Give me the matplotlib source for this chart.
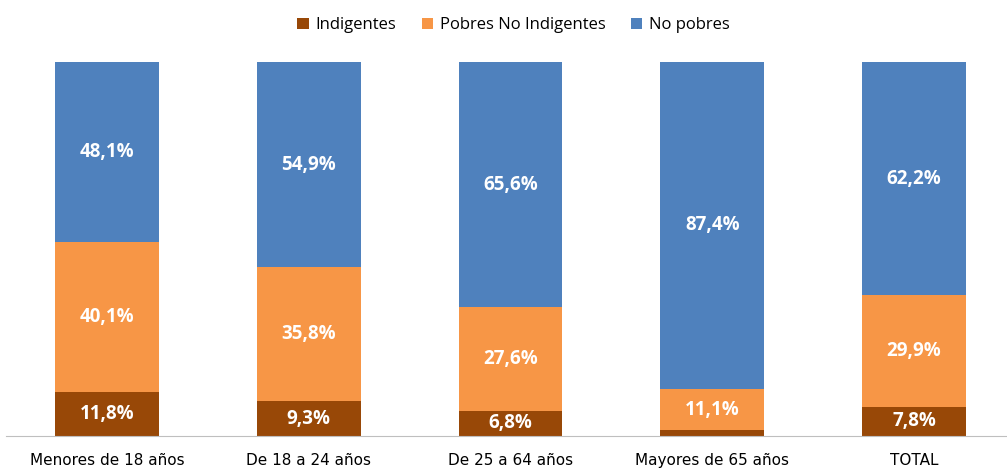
import matplotlib.pyplot as plt
import numpy as np

categorias = ["Menores de 18 años", "De 18 a 24 años", "De 25 a 64 años",
              "Mayores de 65 años", "TOTAL"]
indigentes = [11.8, 9.3, 6.8, 1.5, 7.8]
pobres_no_indigentes = [40.1, 35.8, 27.6, 11.1, 29.9]
no_pobres = [48.1, 54.9, 65.6, 87.4, 62.2]

series = [
    ("Indigentes", indigentes, "#984807"),
    ("Pobres No Indigentes", pobres_no_indigentes, "#F79646"),
    ("No pobres", no_pobres, "#4F81BD"),
]

plt.rcParams['font.family'] = ['Open Sans', 'DejaVu Sans']

fig = plt.figure(figsize=(10.07, 4.68), dpi=100)
ax = fig.add_axes([6 / 1007, 32 / 468, 1009 / 1007, 374 / 468])

x = np.arange(len(categorias))
bottom = np.zeros(len(categorias))
for nombre, valores, color in series:
    vals = np.array(valores)
    ax.bar(x, vals, 0.515, bottom=bottom, color=color, label=nombre)
    for xi, b, v in zip(x, bottom, vals):
        if v >= 5:
            ax.text(xi, b + v / 2, f"{v:.1f}%".replace(".", ","),
                    ha="center", va="center", color="white",
                    fontsize=13.5, fontweight="bold")
    bottom += vals

ax.set_xlim(-0.5, 4.5)
ax.set_ylim(0, 100)
ax.set_yticks([])
ax.set_xticks(x)
ax.set_xticklabels(categorias, fontsize=11,
                   family=['Liberation Sans Narrow', 'DejaVu Sans'])
ax.tick_params(axis="x", length=0, pad=12)
for s in ["top", "right", "left"]:
    ax.spines[s].set_visible(False)
ax.spines["bottom"].set_color("#BFBFBF")

fig.legend(loc="upper center", bbox_to_anchor=(0.51, 0.995), ncol=3,
           frameon=False, fontsize=12, handlelength=0.7, handleheight=0.7,
           columnspacing=1.5, handletextpad=0.4)

fig.savefig("out.png", dpi=100)
